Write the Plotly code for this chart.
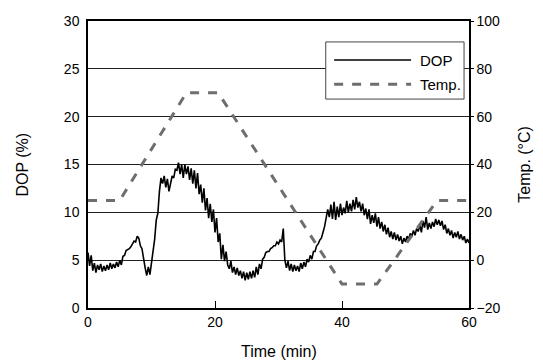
import plotly.graph_objects as go

# DOP sampled every 0.25 min, 0..60
dop_time = [i * 0.25 for i in range(241)]
dop_values = [
    5.8, 4.4, 5.5, 3.9,  4.7, 3.7, 4.5, 4.0,  4.6, 3.8, 4.4, 3.9,  4.5, 4.0, 4.7, 4.1,
    4.6, 4.2, 4.8, 4.3,  5.0, 4.5, 5.4, 5.5,  6.0, 6.1, 6.2, 6.4,  6.8, 7.0, 6.9, 7.5,
    7.3, 6.5, 6.2, 5.0,  4.2, 3.4, 4.3, 3.5,  4.6, 6.0, 7.2, 9.2,  9.9, 12.2, 13.6, 13.0,
    13.8, 12.6, 13.5, 12.2,  13.2, 13.8, 13.6, 14.5,  14.4, 15.2, 14.0, 15.0,  13.6, 15.0, 14.0, 14.8,
    13.4, 14.6, 13.0, 14.4,  12.5, 14.1, 11.9, 12.9,  11.0, 12.5, 10.2, 11.5,  9.4, 10.9, 9.0, 10.3,
    7.9, 9.4, 6.9, 7.8,  5.1, 6.6, 4.9, 5.9,  4.5, 4.1, 4.9, 3.7,  4.3, 3.5, 4.2, 3.4,
    3.9, 3.1, 3.8, 2.9,  3.7, 3.0, 3.8, 3.1,  3.9, 3.2, 4.3, 3.5,  4.6, 4.1, 5.1, 5.3,
    5.8, 5.9, 5.9, 6.2,  6.3, 6.5, 6.5, 6.9,  6.7, 7.1, 6.9, 8.3,  5.0, 4.2, 4.9, 3.9,
    4.6, 3.8, 4.5, 3.9,  4.4, 3.8, 4.7, 4.1,  4.8, 4.3, 5.1, 4.8,  5.5, 5.1, 5.9, 5.9,
    6.5, 6.7, 7.1, 7.3,  7.9, 8.5, 9.4, 10.3,  9.5, 10.8, 9.3, 11.1,  9.2, 10.6, 9.5, 10.9,
    9.7, 10.5, 9.9, 11.2,  10.0, 10.9, 10.1, 11.3,  10.3, 11.6, 10.5, 11.1,  10.1, 10.9, 9.7, 10.4,
    9.3, 10.3, 8.8, 9.7,  8.9, 9.9, 8.5, 9.5,  8.3, 9.0, 8.0, 8.7,  7.7, 8.4, 7.4, 8.0,
    7.2, 7.9, 7.1, 7.7,  7.0, 7.5, 6.7, 7.3,  6.9, 7.5, 7.2, 7.8,  7.5, 8.1, 7.6, 8.3,
    8.0, 8.7, 7.9, 9.1,  8.4, 9.5, 8.2, 8.9,  8.3, 9.0, 8.5, 9.3,  8.7, 9.2, 8.6, 9.1,
    8.2, 8.7, 7.8, 8.3,  7.6, 8.1, 7.3, 7.9,  7.4, 8.0, 7.2, 7.7,  7.1, 7.5, 6.8, 7.2,
    6.8,
]

temp_time = [0, 5, 15.5, 20.5, 40, 45.5, 55, 60]
temp_values = [25, 25, 70, 70, -10, -10, 25, 25]

x_ticks = [0, 20, 40, 60]
dop_ticks = [0, 5, 10, 15, 20, 25, 30]
temp_ticks = [-20, 0, 20, 40, 60, 80, 100]

FONT = "Liberation Sans, Arial, sans-serif"
DOP_COLOR = "black"
TEMP_COLOR = "#6e6e6e"

fig = go.Figure()
fig.add_trace(go.Scatter(x=dop_time, y=dop_values, mode="lines", name="DOP",
                         line=dict(color=DOP_COLOR, width=1.6), showlegend=False))
fig.add_trace(go.Scatter(x=temp_time, y=temp_values, mode="lines", name="Temp.",
                         yaxis="y2", line=dict(color=TEMP_COLOR, width=3, dash="dash"),
                         showlegend=False))

# hand-drawn legend box (paper coordinates)
shapes = [
    dict(type="rect", xref="paper", yref="paper", x0=0.624, x1=0.987, y0=0.728, y1=0.927,
         line=dict(color="#444", width=1), fillcolor="white", layer="above"),
    dict(type="line", xref="paper", yref="paper", x0=0.646, x1=0.848, y0=0.864, y1=0.864,
         line=dict(color=DOP_COLOR, width=1.6), layer="above"),
    dict(type="line", xref="paper", yref="paper", x0=0.646, x1=0.848, y0=0.780, y1=0.780,
         line=dict(color=TEMP_COLOR, width=3, dash="dash"), layer="above"),
]
annotations = [
    dict(text="DOP", xref="paper", yref="paper", x=0.866, y=0.864, xanchor="left",
         yanchor="middle", showarrow=False, font=dict(size=15)),
    dict(text="Temp.", xref="paper", yref="paper", x=0.866, y=0.780, xanchor="left",
         yanchor="middle", showarrow=False, font=dict(size=15)),
    dict(text="DOP (%)", xref="paper", yref="paper", x=-0.173, y=0.5, textangle=-90,
         xanchor="center", yanchor="middle", showarrow=False, font=dict(size=16)),
    dict(text="Temp. (°C)", xref="paper", yref="paper", x=1.145, y=0.5, textangle=-90,
         xanchor="center", yanchor="middle", showarrow=False, font=dict(size=16)),
    dict(text="Time (min)", xref="paper", yref="paper", x=0.5, y=-0.150,
         xanchor="center", yanchor="middle", showarrow=False, font=dict(size=16)),
]

# page body has an 8px margin, so the figure is sized to fill the rest of the window
fig.update_layout(
    width=535, height=353,
    margin=dict(l=80, r=74, t=13, b=53, autoexpand=False),
    paper_bgcolor="white", plot_bgcolor="white",
    font=dict(family=FONT, size=14, color="black"),
    showlegend=False,
    shapes=shapes, annotations=annotations,
    xaxis=dict(range=[0, 60], tickvals=x_ticks, ticks="inside", ticklen=7,
               tickcolor="black", showline=True, linecolor="black", linewidth=1.5,
               mirror=True, showgrid=False, zeroline=False, automargin=False),
    yaxis=dict(range=[0, 30], tickvals=dop_ticks, ticks="", showline=True,
               linecolor="black", linewidth=1.5, showgrid=True, gridcolor="#222",
               gridwidth=1, zeroline=False, automargin=False, ticklabelstandoff=4),
    yaxis2=dict(range=[-20, 100], tickvals=temp_ticks, overlaying="y", side="right",
                ticks="outside", ticklen=3, tickcolor="black", showline=True,
                linecolor="black", linewidth=1.5, showgrid=False, zeroline=False,
                automargin=False),
)

fig.write_html("out.html")
